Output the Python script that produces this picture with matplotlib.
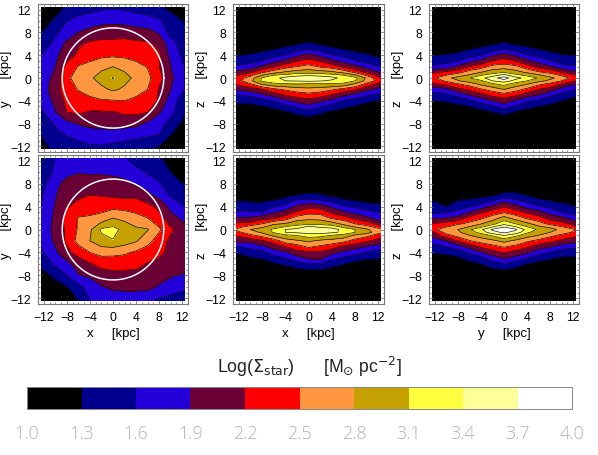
import matplotlib
matplotlib.use('Agg')
import matplotlib.pyplot as plt
import numpy as np
from matplotlib.colors import BoundaryNorm, ListedColormap

plt.rcParams['font.family'] = ['Liberation Sans', 'DejaVu Sans']
plt.rcParams['mathtext.fontset'] = 'dejavusans'

levels = [1.0, 1.3, 1.6, 1.9, 2.2, 2.5, 2.8, 3.1, 3.4, 3.7, 4.0]
colors = ['#000000', '#00008f', '#2400d8', '#6a0036', '#ff0000', '#ff9640',
          '#c4a000', '#ffff40', '#ffff99', '#ffffff']
tick_vals = [-12, -8, -4, 0, 4, 8, 12]
bar_labels = ['1.0', '1.3', '1.6', '1.9', '2.2', '2.5', '2.8', '3.1', '3.4', '3.7', '4.0']

# grid of the maps, kpc
h_nodes = [-12.4, -10, -8, -6, -4, -2, 0, 2, 4, 6, 8, 10, 12.4]
v_nodes_face = [12.4, 10, 8, 6, 4, 2, 0, -2, -4, -6, -8, -10, -12.4]
v_nodes_edge = [8, 6, 5, 4, 3, 2, 1, 0.5, 0, -0.5, -1, -2, -3, -4, -5, -6, -8]

# log surface density
# face on maps: one line per y
xy_top = [
    [1.0, 1.15, 1.35, 1.45, 1.5, 1.55, 1.57, 1.55, 1.5, 1.45, 1.35, 1.22, 1.05],
    [1.15, 1.35, 1.6, 1.7, 1.75, 1.8, 1.82, 1.8, 1.75, 1.72, 1.65, 1.45, 1.28],
    [1.28, 1.55, 1.72, 1.9, 2.0, 2.08, 2.1, 2.08, 2.03, 2.0, 1.85, 1.5, 1.33],
    [1.43, 1.68, 1.97, 2.15, 2.25, 2.27, 2.27, 2.3, 2.27, 2.25, 2.08, 1.75, 1.4],
    [1.6, 1.83, 2.07, 2.25, 2.37, 2.43, 2.45, 2.43, 2.38, 2.32, 2.25, 1.8, 1.5],
    [1.65, 1.9, 2.28, 2.52, 2.6, 2.72, 2.8, 2.72, 2.6, 2.48, 2.2, 1.9, 1.6],
    [1.7, 2.0, 2.45, 2.6, 2.75, 2.93, 3.12, 2.9, 2.73, 2.58, 2.3, 1.97, 1.6],
    [1.72, 2.1, 2.33, 2.52, 2.63, 2.73, 2.85, 2.75, 2.62, 2.5, 2.17, 1.9, 1.6],
    [1.7, 1.97, 2.27, 2.33, 2.42, 2.47, 2.48, 2.5, 2.43, 2.33, 2.17, 1.72, 1.45],
    [1.55, 1.88, 2.2, 2.25, 2.17, 2.17, 2.18, 2.25, 2.27, 2.2, 1.93, 1.68, 1.35],
    [1.38, 1.65, 1.8, 1.92, 2.0, 2.03, 2.05, 2.03, 1.98, 1.85, 1.7, 1.5, 1.2],
    [1.32, 1.5, 1.62, 1.68, 1.72, 1.75, 1.75, 1.72, 1.68, 1.65, 1.6, 1.3, 1.05],
    [1.2, 1.37, 1.42, 1.5, 1.55, 1.55, 1.5, 1.45, 1.42, 1.35, 1.25, 1.1, 1.0],
]
xy_bot = [
    [1.25, 1.62, 1.68, 1.68, 1.67, 1.65, 1.63, 1.62, 1.5, 1.4, 1.33, 1.2, 1.05],
    [1.42, 1.65, 1.8, 1.88, 1.85, 1.85, 1.82, 1.75, 1.68, 1.58, 1.42, 1.3, 1.1],
    [1.5, 1.8, 2.02, 2.05, 2.07, 2.07, 2.05, 2.0, 1.85, 1.72, 1.63, 1.43, 1.28],
    [1.58, 1.87, 2.1, 2.15, 2.2, 2.18, 2.15, 2.12, 2.15, 1.98, 1.78, 1.57, 1.43],
    [1.6, 1.92, 2.18, 2.27, 2.32, 2.38, 2.4, 2.38, 2.33, 2.27, 2.13, 1.8, 1.6],
    [1.65, 1.97, 2.3, 2.52, 2.55, 2.6, 2.8, 2.72, 2.62, 2.5, 2.3, 2.0, 1.82],
    [1.73, 1.97, 2.27, 2.53, 2.75, 3.15, 3.2, 3.0, 2.85, 2.82, 2.55, 2.25, 2.0],
    [1.7, 1.95, 2.27, 2.6, 2.8, 3.0, 3.08, 2.95, 2.83, 2.6, 2.35, 2.13, 1.97],
    [1.55, 1.85, 2.1, 2.32, 2.5, 2.6, 2.58, 2.55, 2.45, 2.35, 2.28, 2.1, 2.02],
    [1.4, 1.65, 1.82, 2.02, 2.17, 2.3, 2.33, 2.3, 2.27, 2.18, 2.1, 2.05, 2.03],
    [1.12, 1.4, 1.6, 1.88, 1.95, 2.05, 2.1, 2.12, 2.12, 2.05, 2.0, 1.93, 1.87],
    [1.05, 1.15, 1.28, 1.52, 1.72, 1.88, 1.95, 1.98, 1.98, 1.98, 1.87, 1.75, 1.68],
    [1.0, 1.0, 1.15, 1.3, 1.6, 1.75, 1.75, 1.72, 1.72, 1.68, 1.55, 1.5, 1.4],
]

# edge on maps: one line per horizontal node, values run down v_nodes_edge
xz_top = [
    [1, 1, 1.1, 1.28, 1.45, 1.63, 1.98, 2.15, 2.3, 2.38, 2.25, 1.93, 1.6, 1.42, 1.2, 1, 1],
    [1, 1, 1.15, 1.33, 1.5, 1.75, 2.16, 2.4, 2.65, 2.72, 2.5, 2.05, 1.65, 1.42, 1.2, 1, 1],
    [1, 1, 1.22, 1.42, 1.6, 1.95, 2.45, 2.8, 3.12, 3.15, 2.88, 2.2, 1.82, 1.5, 1.28, 1.05, 1],
    [1, 1.1, 1.3, 1.5, 1.8, 2.15, 2.68, 3.1, 3.3, 3.3, 3.05, 2.42, 2, 1.6, 1.37, 1.15, 1],
    [1, 1.15, 1.43, 1.6, 1.97, 2.37, 2.85, 3.18, 3.5, 3.4, 3.1, 2.55, 2.2, 1.83, 1.5, 1.25, 1],
    [1, 1.25, 1.5, 1.83, 2.17, 2.5, 2.95, 3.3, 3.6, 3.42, 3.12, 2.65, 2.33, 2, 1.65, 1.38, 1],
    [1, 1.35, 1.6, 2, 2.3, 2.6, 2.98, 3.35, 3.65, 3.45, 3.1, 2.7, 2.4, 2.1, 1.8, 1.48, 1],
    [1, 1.25, 1.5, 1.83, 2.17, 2.46, 2.95, 3.3, 3.6, 3.42, 3.1, 2.65, 2.33, 1.97, 1.63, 1.36, 1],
    [1, 1.15, 1.4, 1.62, 1.97, 2.35, 2.88, 3.22, 3.5, 3.35, 3.1, 2.55, 2.17, 1.8, 1.5, 1.25, 1],
    [1, 1.1, 1.3, 1.52, 1.8, 2.13, 2.72, 3.1, 3.3, 3.3, 3.05, 2.4, 1.97, 1.58, 1.37, 1.15, 1],
    [1, 1, 1.22, 1.42, 1.63, 1.98, 2.45, 2.85, 3.2, 3.1, 2.8, 2.25, 1.8, 1.5, 1.28, 1.05, 1],
    [1, 1, 1.15, 1.33, 1.5, 1.78, 2.15, 2.45, 2.75, 2.7, 2.45, 1.98, 1.65, 1.38, 1.15, 1, 1],
    [1, 1, 1.05, 1.2, 1.4, 1.58, 1.88, 2.05, 2.2, 2.35, 2.1, 1.78, 1.5, 1.25, 1.1, 1, 1],
]
yz_top = [
    [1, 1, 1.1, 1.28, 1.43, 1.65, 2.13, 2.3, 2.42, 2.3, 2.15, 1.72, 1.47, 1.28, 1.1, 1, 1],
    [1, 1, 1.15, 1.32, 1.5, 1.72, 2.28, 2.5, 2.72, 2.55, 2.33, 1.82, 1.55, 1.35, 1.15, 1, 1],
    [1, 1, 1.2, 1.38, 1.6, 1.95, 2.4, 2.67, 2.9, 2.77, 2.5, 2.1, 1.67, 1.42, 1.22, 1, 1],
    [1, 1.1, 1.3, 1.5, 1.8, 2.2, 2.65, 2.83, 3.1, 2.95, 2.65, 2.27, 1.9, 1.55, 1.3, 1.1, 1],
    [1, 1.18, 1.38, 1.6, 1.97, 2.35, 2.8, 3.08, 3.3, 3.05, 2.9, 2.46, 2.07, 1.7, 1.42, 1.2, 1],
    [1, 1.25, 1.5, 1.85, 2.2, 2.6, 2.97, 3.25, 3.6, 3.4, 3.08, 2.62, 2.28, 1.9, 1.55, 1.28, 1],
    [1, 1.35, 1.6, 2, 2.33, 2.63, 3.1, 3.5, 3.85, 3.55, 3.23, 2.8, 2.37, 2.05, 1.73, 1.4, 1],
    [1, 1.25, 1.5, 1.85, 2.18, 2.58, 2.92, 3.2, 3.5, 3.3, 3.0, 2.62, 2.25, 1.87, 1.57, 1.27, 1],
    [1, 1.18, 1.4, 1.62, 1.97, 2.32, 2.75, 3.02, 3.3, 3.1, 2.85, 2.42, 2.03, 1.65, 1.38, 1.18, 1],
    [1, 1.1, 1.3, 1.53, 1.77, 2.1, 2.55, 2.85, 3.08, 2.9, 2.6, 2.2, 1.9, 1.53, 1.3, 1.1, 1],
    [1, 1, 1.22, 1.42, 1.62, 1.93, 2.42, 2.65, 2.88, 2.72, 2.45, 2.05, 1.65, 1.42, 1.22, 1, 1],
    [1, 1, 1.15, 1.32, 1.48, 1.7, 2.2, 2.45, 2.65, 2.5, 2.2, 1.75, 1.5, 1.3, 1.15, 1, 1],
    [1, 1, 1.1, 1.28, 1.42, 1.62, 1.95, 2.2, 2.38, 2.2, 1.92, 1.6, 1.35, 1.18, 1, 1, 1],
]
xz_bot = [
    [1, 1, 1.27, 1.43, 1.65, 1.93, 2.25, 2.38, 2.55, 2.42, 2.23, 1.97, 1.58, 1.33, 1.1, 1, 1],
    [1, 1.05, 1.27, 1.42, 1.65, 1.95, 2.3, 2.6, 2.8, 2.65, 2.45, 2.0, 1.68, 1.48, 1.25, 1, 1],
    [1, 1, 1.25, 1.4, 1.6, 2.07, 2.5, 2.72, 2.95, 2.85, 2.62, 2.15, 1.82, 1.5, 1.33, 1.1, 1],
    [1, 1.1, 1.33, 1.57, 1.87, 2.15, 2.75, 2.95, 3.15, 3.13, 2.9, 2.32, 2.02, 1.75, 1.48, 1.25, 1],
    [1, 1.18, 1.44, 1.68, 1.99, 2.35, 2.82, 3.1, 3.4, 3.4, 3.05, 2.65, 2.2, 1.85, 1.6, 1.35, 1],
    [1, 1.3, 1.67, 1.97, 2.25, 2.62, 3.0, 3.2, 3.5, 3.45, 3.12, 2.75, 2.35, 2.1, 1.75, 1.5, 1],
    [1, 1.35, 1.7, 2.1, 2.4, 2.72, 3.0, 3.45, 3.7, 3.5, 3.25, 2.85, 2.55, 2.15, 1.95, 1.6, 1],
    [1, 1.33, 1.66, 2.05, 2.4, 2.68, 3.02, 3.3, 3.7, 3.5, 3.25, 2.72, 2.45, 2.15, 1.97, 1.58, 1],
    [1, 1.2, 1.52, 1.84, 2.14, 2.45, 2.95, 3.25, 3.55, 3.45, 3.1, 2.68, 2.33, 2.0, 1.68, 1.42, 1],
    [1, 1.1, 1.38, 1.65, 1.95, 2.35, 2.72, 3.0, 3.3, 3.35, 3.0, 2.6, 2.12, 1.84, 1.55, 1.32, 1],
    [1, 1, 1.3, 1.55, 1.8, 2.12, 2.5, 2.75, 3.1, 3.1, 2.77, 2.37, 2.02, 1.72, 1.45, 1.2, 1],
    [1, 1, 1.2, 1.48, 1.68, 1.97, 2.35, 2.6, 2.85, 2.95, 2.6, 2.25, 1.87, 1.6, 1.35, 1.1, 1],
    [1, 1, 1.2, 1.4, 1.58, 1.7, 2.05, 2.3, 2.6, 2.55, 2.35, 2.05, 1.75, 1.45, 1.32, 1.1, 1],
]
yz_bot = [
    [1, 1, 1.3, 1.4, 1.53, 1.85, 2.2, 2.35, 2.4, 2.1, 2.0, 1.72, 1.47, 1.33, 1.1, 1, 1],
    [1, 1, 1.15, 1.3, 1.58, 1.9, 2.33, 2.47, 2.7, 2.62, 2.4, 1.9, 1.6, 1.38, 1.15, 1, 1],
    [1, 1, 1.3, 1.45, 1.7, 2.0, 2.45, 2.63, 2.8, 2.75, 2.62, 2.2, 1.75, 1.45, 1.25, 1.05, 1],
    [1, 1.1, 1.38, 1.58, 1.9, 2.3, 2.58, 2.8, 3.05, 2.95, 2.8, 2.47, 2.0, 1.65, 1.4, 1.2, 1],
    [1, 1.18, 1.43, 1.73, 2.15, 2.43, 2.78, 3.0, 3.35, 3.2, 2.95, 2.62, 2.25, 1.87, 1.5, 1.3, 1],
    [1, 1.25, 1.6, 1.97, 2.33, 2.65, 3.0, 3.35, 3.75, 3.6, 3.15, 2.72, 2.4, 2.07, 1.75, 1.45, 1.05],
    [1, 1.38, 1.83, 2.17, 2.47, 2.92, 3.3, 3.65, 3.95, 3.75, 3.43, 2.88, 2.53, 2.22, 1.93, 1.6, 1],
    [1, 1.38, 1.67, 2.0, 2.33, 2.67, 3.1, 3.4, 3.75, 3.6, 3.2, 2.72, 2.42, 2.07, 1.8, 1.45, 1],
    [1, 1.27, 1.53, 1.78, 2.15, 2.45, 2.88, 3.1, 3.3, 3.15, 2.95, 2.55, 2.25, 1.93, 1.6, 1.3, 1],
    [1, 1.12, 1.4, 1.63, 2.0, 2.32, 2.63, 2.85, 3.05, 2.95, 2.8, 2.4, 2.03, 1.73, 1.42, 1.2, 1],
    [1, 1, 1.3, 1.53, 1.78, 2.07, 2.42, 2.7, 2.93, 2.8, 2.6, 2.27, 1.93, 1.6, 1.35, 1.1, 1],
    [1, 1, 1.2, 1.45, 1.6, 1.98, 2.3, 2.5, 2.7, 2.65, 2.43, 2.12, 1.72, 1.48, 1.25, 1.05, 1],
    [1, 1, 1.15, 1.3, 1.5, 1.72, 2.08, 2.2, 2.5, 2.43, 2.28, 2.0, 1.65, 1.4, 1.27, 1.05, 1],
]
circle_radius = 8.8

fig = plt.figure(figsize=(5.98, 4.56), dpi=100)
W, H = 598.0, 456.0


def px_axes(x0, x1, y0, y1):
    return fig.add_axes([x0 / W, 1 - y1 / H, (x1 - x0) / W, (y1 - y0) / H])


def draw_map(ax, v, vals):
    ax.contourf(h_nodes, v, vals, levels=levels, colors=colors)
    ax.contour(h_nodes, v, vals, levels=levels[1:], colors='k', linewidths=0.45)
    ax.set_xlim(-13, 13)
    ax.set_ylim(-13, 13)
    ax.set_xticks(tick_vals)
    ax.set_yticks(tick_vals)
    ax.set_xticks(np.arange(-13, 14), minor=True)
    ax.set_yticks(np.arange(-13, 14), minor=True)
    ax.tick_params(which='major', direction='in', length=3, width=0.5, color='#666666',
                   top=True, right=True, labelsize=8.8, pad=5)
    ax.tick_params(which='minor', direction='in', length=1.5, width=0.5, color='#666666',
                   top=True, right=True)
    for s in ax.spines.values():
        s.set_linewidth(0.8)
        s.set_color('#777777')


def edge_field(vals):
    # columns typed per horizontal node, empty space above and below the disc
    arr = np.array(vals).T
    pad = np.full((1, arr.shape[1]), levels[0])
    return np.vstack([pad, arr, pad])


v_edge = [12.4] + v_nodes_edge + [-12.4]
cols = [(38, 188), (233, 384), (429, 579)]
rows = [(5, 153), (156, 305)]
panels = [
    [(xy_top, 'y'), (xz_top, 'z'), (yz_top, 'z')],
    [(xy_bot, 'y'), (xz_bot, 'z'), (yz_bot, 'z')],
]
xlabels = ['x', 'x', 'y']

for r in range(2):
    for c in range(3):
        ax = px_axes(cols[c][0], cols[c][1], rows[r][0], rows[r][1])
        vals, yl = panels[r][c]
        if c == 0:
            draw_map(ax, v_nodes_face, vals)
            t = np.radians(np.arange(0, 361, 2))
            ax.plot(circle_radius * np.cos(t), circle_radius * np.sin(t), color='w', lw=1.1)
        else:
            draw_map(ax, v_edge, edge_field(vals))
        ax.set_ylabel(yl + '      [kpc]', fontsize=9.5)
        ax.yaxis.set_label_coords(-25.5 / (cols[c][1] - cols[c][0]), 0.5)
        if r == 1:
            ax.set_xlabel(xlabels[c] + '     [kpc]', fontsize=9.5, labelpad=3)
        else:
            ax.tick_params(labelbottom=False)

# colour bar
cax = px_axes(27, 572, 388, 410)
cax.pcolormesh(levels, [0, 1], [levels[:-1]], cmap=ListedColormap(colors),
               norm=BoundaryNorm(levels, len(colors)))
cax.set_yticks([])
cax.set_xticks(levels)
cax.set_xticklabels(bar_labels, fontsize=13, color='#b4b4b4')
cax.tick_params(axis='x', length=0, pad=11)
for lab in cax.get_xticklabels():
    lab.set_fontfamily(['Open Sans', 'DejaVu Sans'])
    lab.set_fontweight('light')
for s in cax.spines.values():
    s.set_linewidth(0.7)
    s.set_color('#888888')

fig.text(309 / W, 1 - 367 / H, r'Log($\Sigma_{\rm star}$)      [M$_{\odot}$ pc$^{-2}$]',
         ha='center', va='center', fontsize=12.7, color='#222222')

fig.savefig('out.png', dpi=100)
